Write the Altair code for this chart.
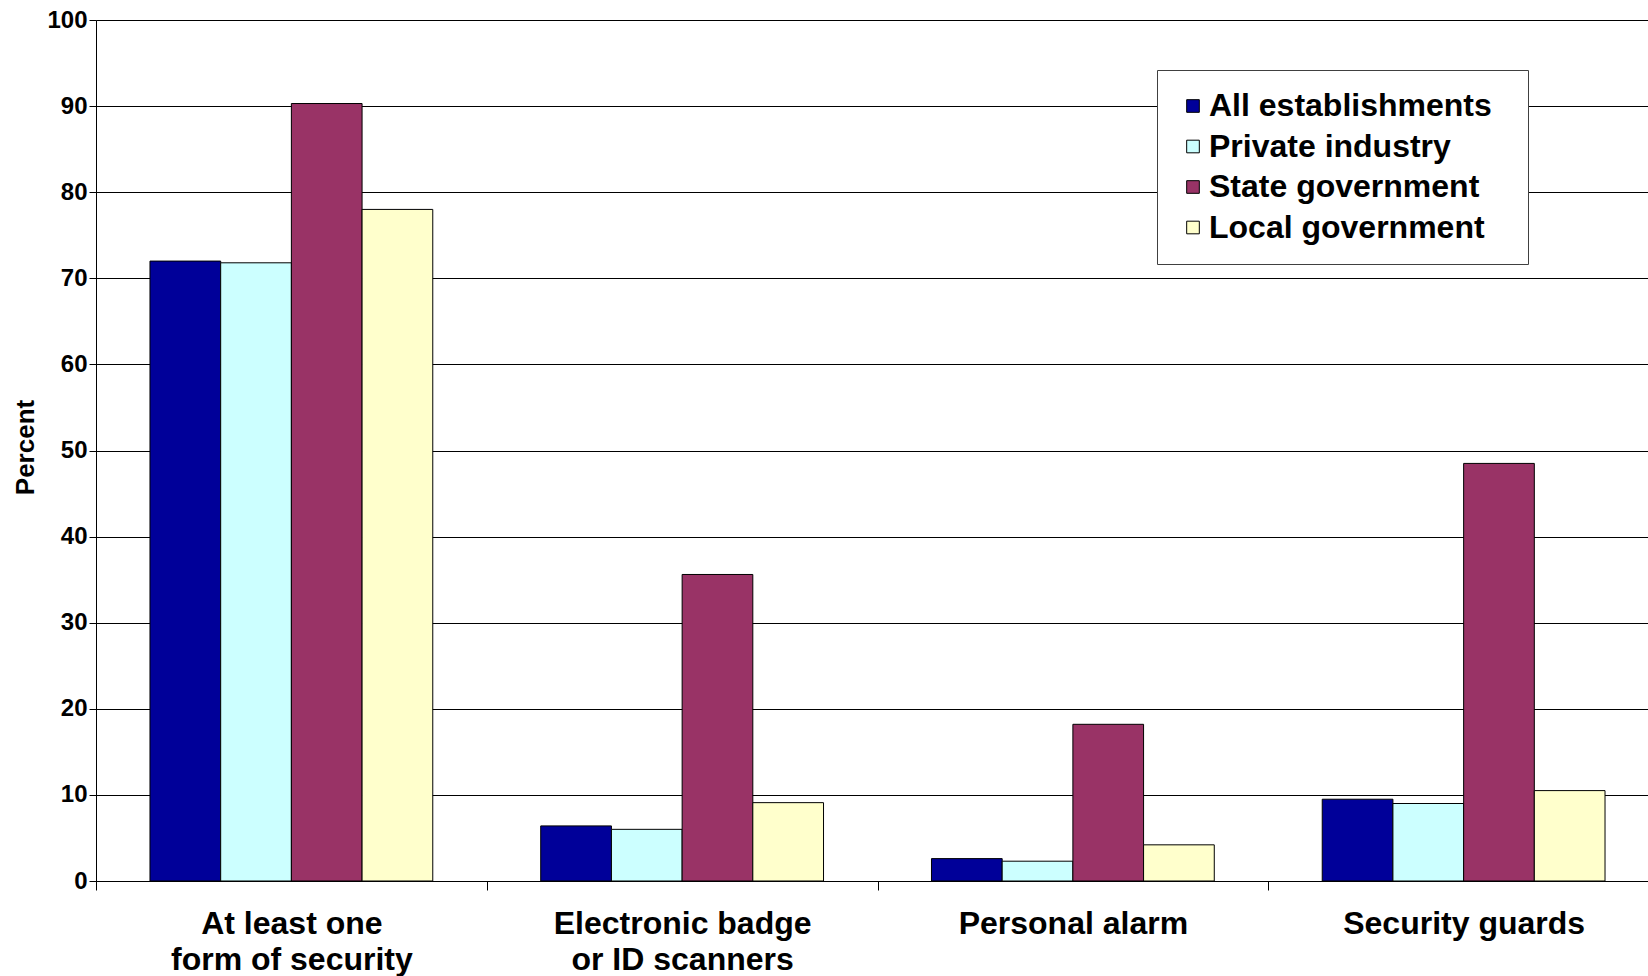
import altair as alt
import pandas as pd

# Security measures by establishment type (percent)
categories = [
    "At least one\nform of security",
    "Electronic badge\nor ID scanners",
    "Personal alarm",
    "Security guards",
]
series = ["All establishments", "Private industry", "State government", "Local government"]
all_establishments = [72.0, 6.4, 2.6, 9.5]
private_industry = [71.8, 6.0, 2.3, 9.0]
state_government = [90.3, 35.6, 18.2, 48.5]
local_government = [78.0, 9.1, 4.2, 10.5]
colors = ["#000099", "#CCFFFF", "#993366", "#FFFFCC"]
y_ticks = list(range(0, 101, 10))

rows = []
for name, vals in zip(series, [all_establishments, private_industry, state_government, local_government]):
    for cat, v in zip(categories, vals):
        rows.append({"category": cat, "series": name, "percent": v})
df = pd.DataFrame(rows)

FONT = "Liberation Sans"

chart = (
    alt.Chart(df)
    .mark_bar(stroke="black", strokeWidth=1)
    .encode(
        x=alt.X(
            "category:N",
            sort=categories,
            title=None,
            scale=alt.Scale(range=[0, 1563], paddingInner=0, paddingOuter=0),
            axis=alt.Axis(
                labelAngle=0,
                labelExpr="split(datum.label, '\\n')",
                labelFont=FONT,
                labelFontSize=32,
                labelFontWeight="bold",
                labelColor="black",
                labelLineHeight=36,
                labelPadding=18,
                labelLimit=500,
                tickBand="extent",
                tickSize=9,
                tickColor="black",
                domainColor="black",
                grid=False,
            ),
        ),
        xOffset=alt.XOffset(
            "series:N",
            sort=series,
            scale=alt.Scale(paddingInner=0, paddingOuter=0.7634),
        ),
        y=alt.Y(
            "percent:Q",
            scale=alt.Scale(domain=[0, 100], nice=False),
            axis=alt.Axis(
                values=y_ticks,
                title="Percent",
                titleFont=FONT,
                titleFontSize=26,
                titleFontWeight="bold",
                titleColor="black",
                titleX=-63,
                titleY=427,
                titleAngle=-90,
                titleBaseline="alphabetic",
                labelFont=FONT,
                labelFontSize=24,
                labelFontWeight="bold",
                labelColor="black",
                labelPadding=2,
                tickSize=7,
                tickColor="black",
                domainColor="black",
                gridColor="black",
                gridWidth=1,
            ),
        ),
        color=alt.Color(
            "series:N",
            sort=series,
            scale=alt.Scale(domain=series, range=colors),
            legend=alt.Legend(
                title=" ",
                titleOrient="right",
                titleFontSize=4,
                titlePadding=16,
                orient="none",
                legendX=1061,
                legendY=50,
                direction="vertical",
                symbolType="square",
                symbolSize=160,
                symbolStrokeColor="black",
                symbolStrokeWidth=1,
                symbolOpacity=1,
                labelFont=FONT,
                labelFontSize=32,
                labelFontWeight="bold",
                labelColor="black",
                labelOffset=0,
                labelLimit=600,
                rowPadding=8.5,
                padding=20,
                strokeColor="#404040",
                fillColor="white",
            ),
        ),
    )
    .properties(
        width=1552,
        height=861,
        autosize=alt.AutoSizeParams(type="none"),
        padding={"left": 96, "top": 20, "right": 0, "bottom": 95},
    )
    .configure_view(stroke=None)
    .configure(background="white")
)

chart.save("out.html", embed_options={"renderer": "svg", "actions": False})
